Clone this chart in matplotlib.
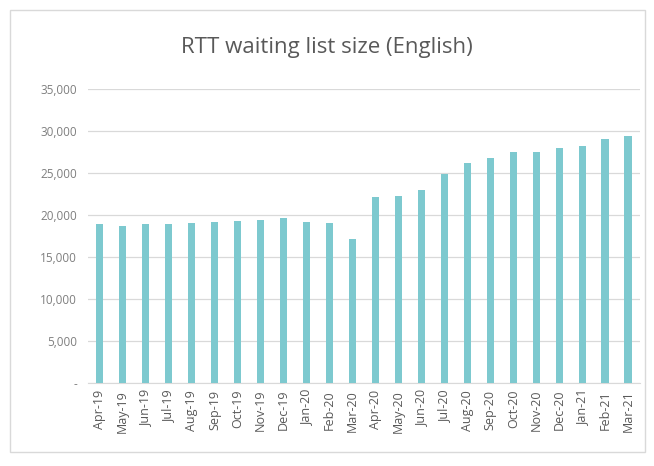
import matplotlib
matplotlib.use('Agg')
import matplotlib.pyplot as plt
from matplotlib.patches import Rectangle
from matplotlib.ticker import FuncFormatter

plt.rcParams['font.family'] = ['Open Sans', 'DejaVu Sans']

months = ["Apr-19", "May-19", "Jun-19", "Jul-19", "Aug-19", "Sep-19", "Oct-19", "Nov-19",
          "Dec-19", "Jan-20", "Feb-20", "Mar-20", "Apr-20", "May-20", "Jun-20", "Jul-20",
          "Aug-20", "Sep-20", "Oct-20", "Nov-20", "Dec-20", "Jan-21", "Feb-21", "Mar-21"]
waiting = [18900, 18750, 18900, 18950, 19050, 19150, 19250, 19450,
           19700, 19150, 19100, 17100, 22200, 22300, 22950, 24900,
           26200, 26800, 27500, 27450, 28000, 28250, 29100, 29450]

BAR_COLOUR = "#7dc9cf"
TEXT_GREY = "#7f7f7f"


def thousands(v, pos):
    return "-" if v == 0 else f"{v:,.0f}"


fig = plt.figure(figsize=(6.54, 4.66), dpi=100)
ax = fig.add_axes([0.135, 0.178, 0.843, 0.631])

x = range(len(months))
ax.bar(x, waiting, width=0.32, color=BAR_COLOUR, zorder=3)

ax.set_xlim(-0.5, len(months) - 0.5)
ax.set_ylim(0, 35000)
ax.set_yticks(range(0, 35001, 5000))
ax.yaxis.set_major_formatter(FuncFormatter(thousands))
ax.set_xticks(list(x))
ax.set_xticklabels(months, rotation=90)
ax.tick_params(axis='y', length=0, labelsize=8.5, colors=TEXT_GREY, pad=8)
ax.tick_params(axis='x', length=0, labelsize=9, colors="#595959", pad=5)

ax.grid(axis='y', color="#d9d9d9", linewidth=0.9, zorder=0)
for side in ['top', 'right', 'left']:
    ax.spines[side].set_visible(False)
ax.spines['bottom'].set_color("#d9d9d9")

fig.text(0.5, 0.898, "RTT waiting list size (English)", ha='center', va='center',
         fontsize=16, color="#595959")

fig.patches.append(Rectangle((0.016, 0.03), 0.97, 0.948, transform=fig.transFigure,
                             fill=False, edgecolor="#d9d9d9", linewidth=1))

fig.savefig("out.png", dpi=100)
